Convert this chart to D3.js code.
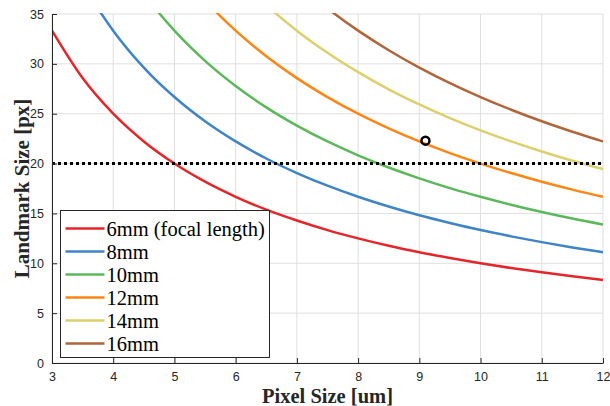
<!DOCTYPE html>
<html>
<head>
<meta charset="utf-8">
<script src="https://cdn.jsdelivr.net/npm/d3@7"></script>
<style>
	body { margin: 0; background: #fff; }
	.tick text { font-family: "Liberation Sans", Arial, sans-serif; font-size: 12.5px; fill: #262626; }
</style>
</head>
<body>
<div id="main"></div>
<script>
// pixel size samples (um)
const pixelSizes = [3, 3.5, 4, 4.5, 5, 5.5, 6, 6.5, 7, 7.5, 8, 8.5, 9, 9.5, 10, 10.5, 11, 11.5, 12];

// landmark size (px) per focal length
const red6 = [33.33, 28.57, 25, 22.22, 20, 18.18, 16.67, 15.38, 14.29, 13.33, 12.5, 11.76, 11.11, 10.53, 10, 9.52, 9.09, 8.7, 8.33];
const blue8 = [44.44, 38.1, 33.33, 29.63, 26.67, 24.24, 22.22, 20.51, 19.05, 17.78, 16.67, 15.69, 14.81, 14.04, 13.33, 12.7, 12.12, 11.59, 11.11];
const green10 = [55.56, 47.62, 41.67, 37.04, 33.33, 30.3, 27.78, 25.64, 23.81, 22.22, 20.83, 19.61, 18.52, 17.54, 16.67, 15.87, 15.15, 14.49, 13.89];
const orange12 = [66.67, 57.14, 50, 44.44, 40, 36.36, 33.33, 30.77, 28.57, 26.67, 25, 23.53, 22.22, 21.05, 20, 19.05, 18.18, 17.39, 16.67];
const yellow14 = [77.78, 66.67, 58.33, 51.85, 46.67, 42.42, 38.89, 35.9, 33.33, 31.11, 29.17, 27.45, 25.93, 24.56, 23.33, 22.22, 21.21, 20.29, 19.44];
const brown16 = [88.89, 76.19, 66.67, 59.26, 53.33, 48.48, 44.44, 41.03, 38.1, 35.56, 33.33, 31.37, 29.63, 28.07, 26.67, 25.4, 24.24, 23.19, 22.22];

const seriesNames = ["6mm (focal length)", "8mm", "10mm", "12mm", "14mm", "16mm"];
const seriesValues = [red6, blue8, green10, orange12, yellow14, brown16];
const seriesColors = ["#e4262b", "#3f84c4", "#5cb85a", "#ff8514", "#dcd06e", "#b0653a"];

const threshold = 20;
const marker = { x: 9.1, y: 22.3 };

const xTicks = [3, 4, 5, 6, 7, 8, 9, 10, 11, 12];
const yTicks = [0, 5, 10, 15, 20, 25, 30, 35];

const W = 610, H = 406;
const m = { left: 52, right: 7, top: 14, bottom: 43 };
const cw = W - m.left - m.right, ch = H - m.top - m.bottom;

const svg = d3.select("#main").append("svg").attr("width", W).attr("height", H);
const g = svg.append("g").attr("transform", `translate(${m.left},${m.top})`);

const x = d3.scaleLinear().domain([3, 12]).range([0, cw]);
const y = d3.scaleLinear().domain([0, 35]).range([ch, 0]);

svg.append("defs").append("clipPath").attr("id", "clip")
	.append("rect").attr("width", cw).attr("height", ch + 1).attr("y", -1);

// grid
g.append("g").selectAll("line").data(xTicks).enter().append("line")
	.attr("x1", (d) => x(d)).attr("x2", (d) => x(d))
	.attr("y1", 0).attr("y2", ch)
	.style("stroke", "#dfdfdf").style("stroke-width", 1);
g.append("g").selectAll("line").data(yTicks).enter().append("line")
	.attr("x1", 0).attr("x2", cw)
	.attr("y1", (d) => y(d)).attr("y2", (d) => y(d))
	.style("stroke", "#dfdfdf").style("stroke-width", 1);

// curves
const line = d3.line()
	.x((d) => x(d[0]))
	.y((d) => y(d[1]))
	.curve(d3.curveMonotoneX);

const curves = g.append("g").attr("clip-path", "url(#clip)");
seriesValues.forEach((vals, i) => {
	curves.append("path")
		.datum(pixelSizes.map((p, j) => [p, vals[j]]))
		.attr("d", line)
		.style("fill", "none")
		.style("stroke", seriesColors[i])
		.style("stroke-width", 2.5);
});

// threshold
g.append("line")
	.attr("x1", 0).attr("x2", cw)
	.attr("y1", y(threshold)).attr("y2", y(threshold))
	.style("stroke", "#000")
	.style("stroke-width", 3)
	.style("stroke-dasharray", "3,3");

// marker
g.append("circle")
	.attr("cx", x(marker.x)).attr("cy", y(marker.y)).attr("r", 4)
	.style("fill", "none").style("stroke", "#000").style("stroke-width", 2.5);

// axes
const xAxis = g.append("g").attr("transform", `translate(0,${ch})`)
	.call(d3.axisBottom(x).tickValues(xTicks).tickSizeInner(-5).tickSizeOuter(0).tickPadding(8));
const yAxis = g.append("g")
	.call(d3.axisLeft(y).tickValues(yTicks).tickSizeInner(-5).tickSizeOuter(0).tickPadding(8));
[xAxis, yAxis].forEach((a) => {
	a.select(".domain").style("stroke", "#262626").style("stroke-width", 1);
	a.selectAll(".tick line").style("stroke", "#262626");
});
xAxis.selectAll(".tick text").attr("dy", "0.8em");

// axis titles
svg.append("text")
	.attr("x", m.left + cw / 2).attr("y", 403)
	.attr("text-anchor", "middle")
	.style("font-family", "'Liberation Serif', 'Times New Roman', serif")
	.style("font-weight", 700).style("font-size", "20.5px").style("fill", "#262626")
	.text("Pixel Size [um]");
svg.append("text")
	.attr("transform", `translate(29,${m.top + ch / 2}) rotate(-90)`)
	.attr("text-anchor", "middle")
	.style("font-family", "'Liberation Serif', 'Times New Roman', serif")
	.style("font-weight", 700).style("font-size", "21px").style("fill", "#262626")
	.text("Landmark Size [px]");

// legend
const legend = svg.append("g").attr("transform", "translate(60.5,210.5)");
legend.append("rect")
	.attr("width", 209).attr("height", 147)
	.style("fill", "#fff").style("stroke", "#262626").style("stroke-width", 1);
const rows = legend.selectAll(".row").data(seriesNames).enter().append("g")
	.classed("row", true)
	.attr("transform", (d, i) => `translate(0,${18 + i * 23})`);
rows.append("line")
	.attr("x1", 5).attr("x2", 44)
	.style("stroke", (d, i) => seriesColors[i]).style("stroke-width", 2.5);
rows.append("text")
	.attr("x", 46).attr("dy", "0.35em")
	.style("font-family", "'Liberation Serif', 'Times New Roman', serif")
	.style("font-size", "20.5px").style("fill", "#000")
	.text((d) => d);
</script>
</body>
</html>
